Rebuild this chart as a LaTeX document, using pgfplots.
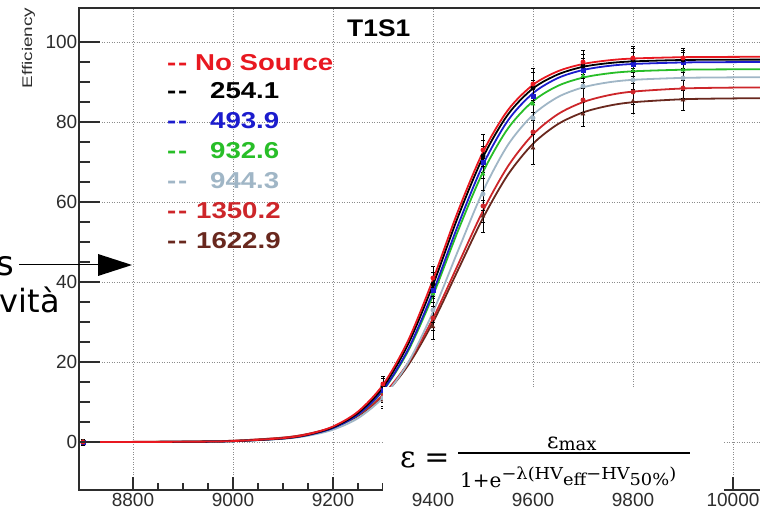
\documentclass[border=0pt]{standalone}
\usepackage{fontspec}
\setmainfont{Liberation Sans}
\newfontfamily\dvs{DejaVu Sans}
\newfontfamily\dvserif{DejaVu Serif}
\usepackage{pgfplots}
\pgfplotsset{compat=1.18}
\definecolor{cNS}{RGB}{232,24,32}
\definecolor{cA}{RGB}{0,0,0}
\definecolor{cB}{RGB}{28,28,205}
\definecolor{cG}{RGB}{40,190,40}
\definecolor{cL}{RGB}{160,182,198}
\definecolor{cR}{RGB}{205,38,42}
\definecolor{cBr}{RGB}{105,40,30}
\definecolor{tickc}{RGB}{45,45,45}
\newcommand\dd{\mbox{-}\kern0.06em\mbox{-}}
\pgfplotsset{
  fitline/.style={line width=1.8pt, smooth, no marks},
  pts/.style={only marks, mark size=2.2pt, line width=0.5pt,
    error bars/y dir=both, error bars/y explicit,
    error bars/error bar style={black, line width=0.9pt},
    error bars/error mark options={rotate=90, black, mark size=2pt}},
  frame/.style={
    at={(79pt,24pt)}, anchor=south west,
    scale only axis, width=683pt, height=482pt,
    xmin=8692, xmax=10058, ymin=-12, ymax=108.5,
    xtick={8800,9000,...,10000}, ytick={0,20,...,100},
    minor x tick num=3, minor y tick num=3,
    xtick pos=bottom, ytick pos=left, tick align=inside,
    scaled x ticks=false, scaled y ticks=false,
    tick style={tickc, line width=1.2pt},
  },
}
\begin{document}
\begin{tikzpicture}
\useasboundingbox (0,0) rectangle (760pt,514pt);
\begin{axis}[frame,
  major tick length=13pt, minor tick length=7pt,
  grid=major,
  major grid style={black!45, line width=0.8pt, dash pattern=on 1pt off 1.5pt},
  axis line style={tickc, line width=1.3pt},
  ticklabel style={font=\fontsize{19}{19}\selectfont, text=tickc},
  yticklabel style={inner xsep=1.5pt},
  /pgf/number format/assume math mode=true,
  /pgf/number format/1000 sep={},
  ytick style={draw=none},
]
% 1622.9 brown
\addplot[cBr, fitline] coordinates {(8692,0.007)(8800,0.025)(8900,0.089)(9000,0.31)(9100,1.07)(9150,1.98)(9200,3.62)(9250,6.53)(9300,11.44)(9350,19.15)(9400,29.96)(9450,43.0)(9500,56.0)(9550,66.85)(9600,74.56)(9650,79.48)(9700,82.39)(9750,84.03)(9800,84.94)(9900,85.69)(10000,85.9)(10058,85.95)};
\addplot[pts, cBr, mark=triangle*] coordinates {(8700,0) +- (0,0.8) (9300,10.5) +- (0,2) (9400,28.8) +- (0,3) (9500,56.5) +- (0,4) (9600,73.5) +- (0,4) (9700,82) +- (0,3) (9800,85.2) +- (0,3) (9900,85.5) +- (0,2.5)};
% 1350.2 red
\addplot[cR, fitline] coordinates {(8692,0.007)(8800,0.026)(8900,0.092)(9000,0.32)(9100,1.10)(9150,2.04)(9200,3.73)(9250,6.73)(9300,11.8)(9350,19.75)(9400,30.9)(9450,44.35)(9500,57.8)(9550,68.95)(9600,76.9)(9650,81.97)(9700,84.97)(9750,86.66)(9800,87.6)(9900,88.38)(10000,88.6)(10058,88.65)};
\addplot[pts, cR, mark=*] coordinates {(8700,0) +- (0,0.8) (9300,12) +- (0,2) (9400,31) +- (0,3) (9500,59) +- (0,4) (9600,77.5) +- (0,4) (9700,85.5) +- (0,3) (9800,87.5) +- (0,3) (9900,88.5) +- (0,2.5)};
% 944.3 light blue
\addplot[cL, fitline] coordinates {(8692,0.003)(8800,0.013)(8900,0.051)(9000,0.20)(9100,0.80)(9150,1.57)(9200,3.08)(9250,5.95)(9300,11.13)(9350,19.8)(9400,32.5)(9450,47.8)(9500,62.7)(9550,74.3)(9600,81.8)(9650,86.25)(9700,88.65)(9750,89.9)(9800,90.54)(9900,91.03)(10000,91.16)(10058,91.18)};
\addplot[pts, cL, mark=*] coordinates {(8700,0) +- (0,0.8) (9300,11) +- (0,2) (9400,33) +- (0,3) (9500,62) +- (0,4) (9600,81) +- (0,4) (9700,89) +- (0,3) (9800,90.5) +- (0,3) (9900,91) +- (0,2.5)};
% 932.6 green
\addplot[cG, fitline] coordinates {(8692,0.003)(8800,0.014)(8900,0.055)(9000,0.22)(9100,0.90)(9150,1.79)(9200,3.53)(9250,6.85)(9300,12.84)(9350,22.7)(9400,36.65)(9450,52.8)(9500,67.5)(9550,78.4)(9600,85.2)(9650,89.05)(9700,91.1)(9750,92.14)(9800,92.67)(9900,93.07)(10000,93.17)(10058,93.19)};
\addplot[pts, cG, mark=triangle*] coordinates {(8700,0) +- (0,0.8) (9300,12.5) +- (0,2) (9400,37) +- (0,3) (9500,67) +- (0,4) (9600,84.5) +- (0,4) (9700,91.5) +- (0,3) (9800,92.8) +- (0,3) (9900,93) +- (0,2.5)};
% 493.9 blue
\addplot[cB, fitline] coordinates {(8692,0.003)(8800,0.012)(8900,0.051)(9000,0.21)(9100,0.87)(9150,1.75)(9200,3.49)(9250,6.84)(9300,12.96)(9350,23.1)(9400,37.5)(9450,54.2)(9500,69.3)(9550,80.4)(9600,87.2)(9650,91.0)(9700,93.0)(9750,94.0)(9800,94.5)(9900,94.88)(10000,94.97)(10058,94.99)};
\addplot[pts, cB, mark=square*, mark size=2pt] coordinates {(8700,0) +- (0,0.8) (9300,13) +- (0,2) (9400,38) +- (0,3) (9500,70) +- (0,4) (9600,86.5) +- (0,4) (9700,93) +- (0,3) (9800,94.5) +- (0,3) (9900,95) +- (0,2.5)};
% 254.1 black
\addplot[cA, fitline] coordinates {(8692,0.003)(8800,0.013)(8900,0.052)(9000,0.22)(9100,0.91)(9150,1.84)(9200,3.68)(9250,7.25)(9300,13.68)(9350,24.4)(9400,39.3)(9450,56.3)(9500,71.2)(9550,81.9)(9600,88.4)(9650,91.9)(9700,93.8)(9750,94.7)(9800,95.15)(9900,95.5)(10000,95.58)(10058,95.6)};
\addplot[pts, cA, mark=*] coordinates {(8700,0) +- (0,0.8) (9300,14) +- (0,2) (9400,39.5) +- (0,3) (9500,71.5) +- (0,4) (9600,88.5) +- (0,4) (9700,94) +- (0,3) (9800,95.5) +- (0,3) (9900,95.5) +- (0,2.5)};
% No Source red
\addplot[cNS, fitline] coordinates {(8692,0.003)(8800,0.013)(8900,0.055)(9000,0.23)(9100,0.96)(9150,1.93)(9200,3.87)(9250,7.6)(9300,14.31)(9350,25.3)(9400,40.6)(9450,57.7)(9500,72.5)(9550,83.0)(9600,89.3)(9650,92.7)(9700,94.5)(9750,95.4)(9800,95.87)(9900,96.2)(10000,96.28)(10058,96.3)};
\addplot[pts, cNS, mark=*] coordinates {(8700,0) +- (0,0.8) (9300,14.5) +- (0,2) (9400,41) +- (0,3) (9500,73) +- (0,4) (9600,89.5) +- (0,4) (9700,95) +- (0,3) (9800,96) +- (0,3) (9900,96) +- (0,2.5)};
\end{axis}
% second frame: long y ticks only
\begin{axis}[frame,
  major tick length=21pt, minor tick length=11pt,
  hide x axis, axis line style={draw=none},
  yticklabels={},
]
\addplot[draw=none, forget plot] coordinates {(9000,0)};
\end{axis}
% y label
\node[rotate=90, inner sep=0, text=tickc] at (28.5pt,466pt) {\scalebox{1.35}[1]{\fontsize{14}{14}\selectfont Efficiency}};
% title
\node[anchor=west, inner sep=0] at (347pt,485.5pt) {\scalebox{1.1}[1]{\bfseries\fontsize{24}{24}\selectfont T1S1}};
% legend text
\begin{scope}[every node/.style={anchor=base west, inner sep=0}]
\def\lf{\bfseries\fontsize{23}{23}\selectfont}
\node[text=cNS] at (167pt,443.8pt) {\scalebox{1.2}[1]{\lf\dd}};
\node[text=cNS] at (195pt,443.8pt) {\scalebox{1.2}[1]{\lf No Source}};
\node[text=cA] at (167pt,415.8pt) {\scalebox{1.2}[1]{\lf\dd}};
\node[text=cA] at (210pt,415.8pt) {\scalebox{1.2}[1]{\lf 254.1}};
\node[text=cB] at (167pt,385.8pt) {\scalebox{1.2}[1]{\lf\dd}};
\node[text=cB] at (210pt,385.8pt) {\scalebox{1.2}[1]{\lf 493.9}};
\node[text=cG] at (167pt,355.8pt) {\scalebox{1.2}[1]{\lf\dd}};
\node[text=cG] at (210pt,355.8pt) {\scalebox{1.2}[1]{\lf 932.6}};
\node[text=cL] at (167pt,325.8pt) {\scalebox{1.2}[1]{\lf\dd}};
\node[text=cL] at (210pt,325.8pt) {\scalebox{1.2}[1]{\lf 944.3}};
\node[text=cR] at (167pt,295.8pt) {\scalebox{1.2}[1]{\lf\dd}};
\node[text=cR] at (196pt,295.8pt) {\scalebox{1.2}[1]{\lf 1350.2}};
\node[text=cBr] at (167pt,265.8pt) {\scalebox{1.2}[1]{\lf\dd}};
\node[text=cBr] at (196pt,265.8pt) {\scalebox{1.2}[1]{\lf 1622.9}};
\end{scope}
% formula overlay
\fill[white] (383pt,23pt) rectangle (724pt,127pt);
\node[anchor=base west, inner sep=0] at (400pt,47pt) {\dvserif\fontsize{30}{30}\selectfont ε};
\node[anchor=base, inner sep=0] at (437pt,47pt) {\dvserif\fontsize{30}{30}\selectfont =};
\draw[line width=2pt] (458pt,61pt) -- (690pt,61pt);
\node[anchor=base west, inner sep=0] at (547pt,66pt) {\dvserif\fontsize{22}{22}\selectfont ε\raisebox{-3pt}{\fontsize{18}{18}\selectfont max}};
\node[anchor=base west, inner sep=0] at (460pt,27pt) {\dvserif\fontsize{20}{20}\selectfont 1+e\raisebox{7.5pt}{\scalebox{1.08}[1]{\fontsize{16.5}{16.5}\selectfont −λ(HV\raisebox{-6pt}{eff}−HV\raisebox{-6pt}{50\%})}}};
% left overlay text and arrow
\node[anchor=base east, inner sep=0] at (14pt,238pt) {\dvs\fontsize{34}{34}\selectfont s};
\node[anchor=base east, inner sep=0] at (60pt,201pt) {\dvs\fontsize{32}{32}\selectfont vità};
\draw[line width=1pt] (19pt,249pt) -- (100pt,249pt);
\fill (98pt,260pt) -- (98pt,238pt) -- (132pt,249pt) -- cycle;
\end{tikzpicture}
\end{document}
